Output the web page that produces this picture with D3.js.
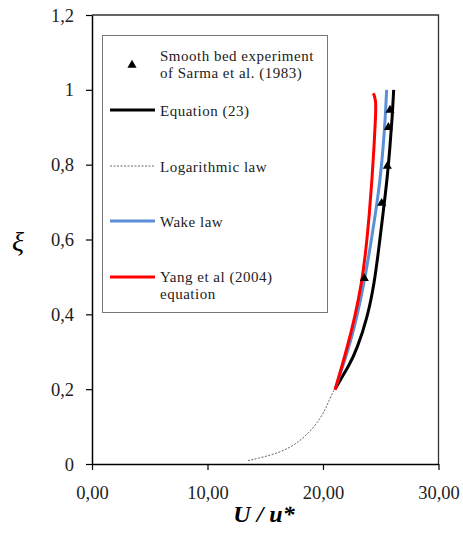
<!DOCTYPE html>
<html>
<head>
<meta charset="utf-8">
<script src="https://d3js.org/d3.v7.min.js"></script>
<style>
  body { margin: 0; background: #fff; }
  svg text { font-family: "Times New Roman", Times, "Liberation Serif", "DejaVu Serif", serif; }
</style>
</head>
<body>
<svg id="chart" width="463" height="533"></svg>
<script>
// data: [U/u*, xi]
const experiment = [[23.58, 0.496], [25.08, 0.697], [25.57, 0.796], [25.66, 0.9], [25.8, 0.946]];
const equation23 = [[21.05, 0.2], [21.5, 0.225], [22.2, 0.26], [22.92, 0.305], [23.87, 0.394], [24.44, 0.483],
                    [24.8, 0.568], [25.2, 0.67], [25.55, 0.76], [25.8, 0.848], [26.0, 0.93], [26.12, 1.0]];
const wakeLaw = [[21.04, 0.2], [22.2, 0.305], [22.95, 0.394], [23.55, 0.483], [24.05, 0.572],
                 [24.55, 0.67], [24.95, 0.76], [25.22, 0.848], [25.42, 0.94], [25.51, 1.0]];
const logLaw = [[13.5, 0.009], [16.3, 0.029], [18.0, 0.06], [19.3, 0.1], [20.2, 0.144], [20.6, 0.176], [21.0, 0.2]];
const yang = [[21.04, 0.198], [22.05, 0.305], [22.77, 0.394], [23.35, 0.483], [23.72, 0.572], [24.02, 0.67],
              [24.24, 0.76], [24.42, 0.848], [24.56, 0.93], [24.59, 0.973], [24.36, 0.991]];
const xTicks = [0, 10, 20, 30];
const yTicks = [0, 0.2, 0.4, 0.6, 0.8, 1, 1.2];

const svg = d3.select("#chart");
const mLeft = 92, mRight = 438.5, mTop = 15, mBottom = 464;

const x = d3.scaleLinear().domain([0, 30]).range([mLeft, mRight]);
const y = d3.scaleLinear().domain([0, 1.2]).range([mBottom, mTop]);

const fmtX = d => d3.format(".2f")(d).replace(".", ",");
const fmtY = d => String(d).replace(".", ",");

// frame (top + right)
svg.append("path")
  .attr("d", `M${mLeft},${mTop}H${mRight}V${mBottom}`)
  .attr("fill", "none").attr("stroke", "#333").attr("stroke-width", 1.3);

const xAxis = svg.append("g")
  .attr("transform", `translate(0,${mBottom})`)
  .call(d3.axisBottom(x).tickValues(xTicks).tickFormat(fmtX).tickSize(6).tickSizeOuter(0));
const yAxis = svg.append("g")
  .attr("transform", `translate(${mLeft},0)`)
  .call(d3.axisLeft(y).tickValues(yTicks).tickFormat(fmtY).tickSize(6).tickSizeOuter(0));

[xAxis, yAxis].forEach(g => {
  g.attr("font-family", null);
  g.select(".domain").attr("stroke", "#000").attr("stroke-width", 1.5);
  g.selectAll(".tick line").attr("stroke", "#000").attr("stroke-width", 1.2);
  g.selectAll("text").attr("font-size", 18.5).attr("fill", "#222");
});
xAxis.selectAll("text").attr("y", 35).attr("dy", 0);
yAxis.selectAll("text").attr("x", -18).attr("dy", "0.33em");

const line = d3.line().x(d => x(d[0])).y(d => y(d[1])).curve(d3.curveBasis);

svg.append("path").datum(logLaw).attr("d", line)
  .attr("fill", "none").attr("stroke", "#555").attr("stroke-width", 0.9).attr("stroke-dasharray", "2,1.5");
svg.append("path").datum(equation23).attr("d", line)
  .attr("fill", "none").attr("stroke", "#000").attr("stroke-width", 3);
svg.append("path").datum(wakeLaw).attr("d", line)
  .attr("fill", "none").attr("stroke", "#5b8fd6").attr("stroke-width", 3);
svg.append("path").datum(yang).attr("d", line)
  .attr("fill", "none").attr("stroke", "#ff0000").attr("stroke-width", 3);

const tri = d3.symbol().type(d3.symbolTriangle).size(36);
svg.selectAll(".pt").data(experiment).join("path")
  .attr("class", "pt")
  .attr("d", tri)
  .attr("transform", d => `translate(${x(d[0])},${y(d[1])})`)
  .attr("fill", "#000");

// axis titles
svg.append("text").attr("x", 18).attr("y", 251).attr("text-anchor", "middle")
  .attr("font-size", 28).attr("font-style", "italic").text("ξ");
svg.append("text").attr("x", 264).attr("y", 522).attr("text-anchor", "middle")
  .attr("font-size", 24).attr("font-style", "italic").attr("font-weight", "bold").text("U / u*");

// legend
const lg = svg.append("g");
lg.append("rect").attr("x", 102.5).attr("y", 35.5).attr("width", 225).attr("height", 277)
  .attr("fill", "#fff").attr("stroke", "#777").attr("stroke-width", 1);

const legendItems = [
  { lines: ["Smooth bed experiment", "of Sarma et al. (1983)"], y: 65, base: 60.5, kind: "tri" },
  { lines: ["Equation (23)"], y: 110, base: 116, kind: "line", color: "#000", w: 3 },
  { lines: ["Logarithmic law"], y: 166, base: 172, kind: "dash", color: "#555", w: 0.9 },
  { lines: ["Wake law"], y: 221, base: 227, kind: "line", color: "#5b8fd6", w: 3 },
  { lines: ["Yang et al (2004)", "equation"], y: 277, base: 281.5, kind: "line", color: "#ff0000", w: 3 }
];
legendItems.forEach(it => {
  if (it.kind === "tri") {
    lg.append("path").attr("d", tri).attr("transform", `translate(132,${it.y})`).attr("fill", "#000");
  } else {
    lg.append("line").attr("x1", 110).attr("x2", 155).attr("y1", it.y).attr("y2", it.y)
      .attr("stroke", it.color).attr("stroke-width", it.w)
      .attr("stroke-dasharray", it.kind === "dash" ? "2,1.5" : null);
  }
  it.lines.forEach((s, i) => lg.append("text")
    .attr("x", 160).attr("y", it.base + i * 17.5)
    .attr("font-size", 15).attr("letter-spacing", 0.5).attr("fill", "#222")
    .text(s));
});
</script>
</body>
</html>
